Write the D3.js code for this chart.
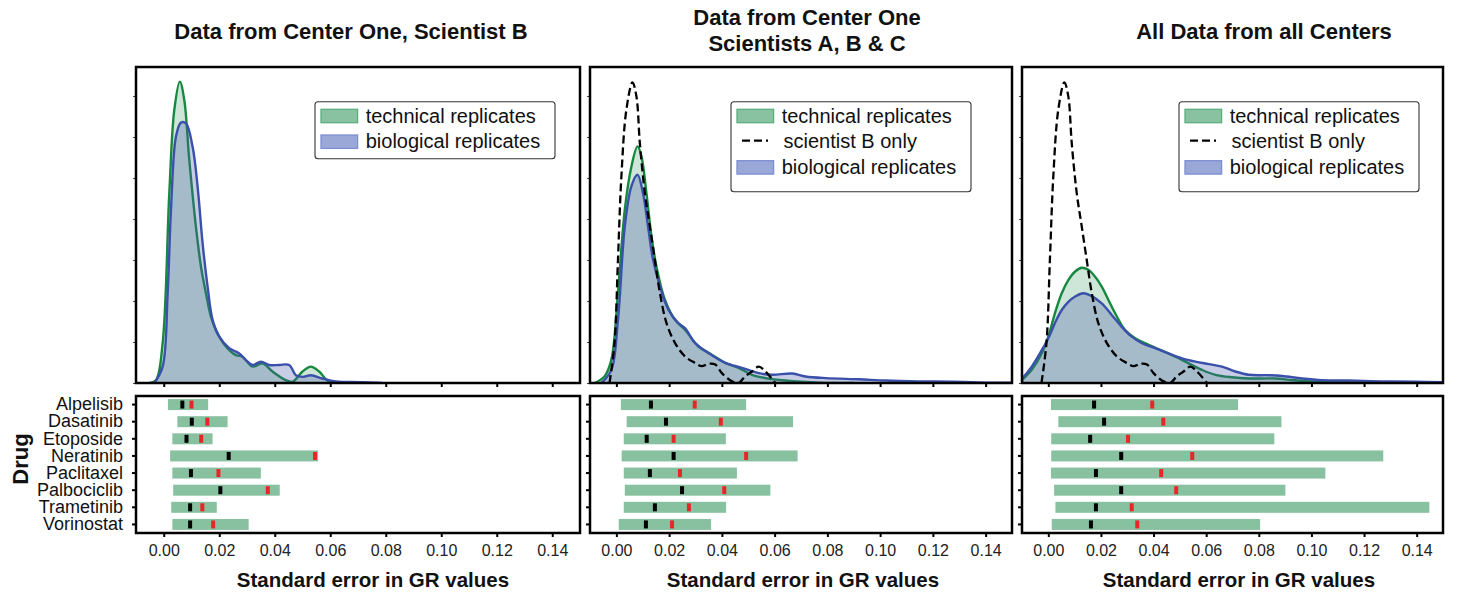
<!DOCTYPE html>
<html><head><meta charset="utf-8">
<script src="https://cdn.jsdelivr.net/npm/d3@7"></script>
<style>body{margin:0;background:#fff} svg{font-family:"Liberation Sans",Arial,Helvetica,sans-serif}</style>
</head><body><svg id="c" width="1457" height="598"></svg>
<script>
// ---------- DATA ----------
const drugs = ["Alpelisib","Dasatinib","Etoposide","Neratinib","Paclitaxel","Palbociclib","Trametinib","Vorinostat"];
const xTicks = [0,0.02,0.04,0.06,0.08,0.10,0.12,0.14];
const densityTicks = [0,10,20,30,40,50,60,70];
const legendLabels = ["technical replicates","scientist B only","biological replicates"];
const titles = [["Data from Center One, Scientist B"],["Data from Center One","Scientists A, B & C"],["All Data from all Centers"]];
const xLabel = "Standard error in GR values";
const yLabel = "Drug";

// density curves [value, density]
const p1Tech = [[-0.0052,0],[-0.0028,0.7],[-0.0004,9.7],[0.0020,46.3],[0.0038,66.6],[0.0058,73.5],[0.0074,69],[0.0092,54.4],[0.0116,38.1],[0.0134,28.4],[0.0152,21.9],[0.0170,16.2],[0.0188,12.9],[0.0224,8.9],[0.0260,6.8],[0.0284,6.4],[0.0320,4.0],[0.0356,4.8],[0.0392,2.8],[0.0440,0.7],[0.0464,0.3],[0.0500,2.8],[0.0530,4.0],[0.0560,2.8],[0.0596,0.3],[0.0656,0]];
const p1Bio = [[-0.0034,0],[-0.0004,4.0],[0.0014,21.9],[0.0026,42.2],[0.0044,60.1],[0.0062,63.5],[0.0080,63.3],[0.0104,57.6],[0.0122,47.9],[0.0140,34.1],[0.0158,23.5],[0.0176,15.4],[0.0200,11.3],[0.0236,8.5],[0.0272,7.2],[0.0296,5.6],[0.0320,4.4],[0.0350,5.2],[0.0380,4.4],[0.0416,4.4],[0.0452,4.4],[0.0476,1.9],[0.0500,1.5],[0.0530,1.9],[0.0572,1.1],[0.0620,0.4],[0.0709,0.2],[0.0788,0]];
const p2Tech = [[-0.0083,0],[-0.0045,1.6],[-0.0019,5.7],[0.0006,22],[0.0032,42.3],[0.0057,52.8],[0.0080,57.7],[0.0095,55.3],[0.0114,46.3],[0.0133,35.8],[0.0152,28.4],[0.0184,20.3],[0.0222,15.4],[0.0260,13],[0.0311,8.9],[0.0362,6.9],[0.0413,4.9],[0.0463,3.7],[0.0514,2.0],[0.0565,1.2],[0.0641,0.6],[0.0768,0.1],[0.0900,0]];
const p2Bio = [[-0.0057,0],[-0.0019,3.2],[0.0006,15.4],[0.0032,38.2],[0.0057,48],[0.0080,50.8],[0.0101,46.3],[0.0120,38.2],[0.0139,30.1],[0.0165,23.6],[0.0197,17.9],[0.0235,14.6],[0.0260,13.4],[0.0298,9.8],[0.0349,7.3],[0.0413,4.9],[0.0476,3.7],[0.0540,2.4],[0.0590,2.0],[0.0667,2.3],[0.0717,1.6],[0.0794,1.2],[0.0920,0.9],[0.1022,0.6],[0.1149,0.4],[0.1276,0.3],[0.1403,0.1],[0.1500,0.05]];
const sciBOnly = [[-0.0026,0],[-0.0007,9.8],[0.0006,30],[0.0019,50.4],[0.0038,66.7],[0.0061,73.3],[0.0076,69.9],[0.0089,58.5],[0.0108,46.3],[0.0127,38.2],[0.0146,30],[0.0165,22],[0.0190,14.6],[0.0222,9.8],[0.0260,6.5],[0.0298,4.9],[0.0324,4.1],[0.0349,4.7],[0.0375,4.5],[0.0400,2.4],[0.0438,0.4],[0.0463,0],[0.0488,1.6],[0.0514,2.8],[0.0540,4.0],[0.0565,2.8],[0.0603,0]];
const p3Tech = [[-0.0102,0.6],[-0.0063,3.2],[-0.0025,7.2],[0,11.3],[0.0025,17.0],[0.0051,21.9],[0.0076,25.1],[0.0102,27.2],[0.0127,28.1],[0.0152,27.6],[0.0178,25.9],[0.0203,23.5],[0.0229,20.2],[0.0254,17.0],[0.0292,12.9],[0.0330,10.9],[0.0381,9.3],[0.0432,7.9],[0.0483,6.4],[0.0533,4.8],[0.0584,3.2],[0.0635,2.0],[0.0698,1.4],[0.0762,1.1],[0.0863,1.1],[0.0927,0.7],[0.1016,0.3],[0.1143,0.2],[0.1502,0.05]];
const p3Bio = [[-0.0102,0.9],[-0.0063,4.0],[-0.0025,8.0],[0,10.9],[0.0025,14.6],[0.0051,17.8],[0.0076,19.8],[0.0102,21.1],[0.0133,21.9],[0.0165,21.2],[0.0203,19.4],[0.0241,16.6],[0.0279,13.7],[0.0317,11.3],[0.0356,9.7],[0.0406,8.5],[0.0457,7.2],[0.0508,6.0],[0.0559,5.2],[0.0610,4.6],[0.0660,4.0],[0.0711,2.8],[0.0762,2.0],[0.0838,1.9],[0.0889,1.7],[0.0965,1.1],[0.1041,0.7],[0.1143,0.6],[0.1270,0.4],[0.1397,0.3],[0.1502,0.2]];

// per-drug ranges (low, high), black marker, red marker
const p1Low  = [0.0015,0.0049,0.0031,0.0023,0.0031,0.0034,0.0027,0.0031];
const p1High = [0.0160,0.0230,0.0176,0.0556,0.0350,0.0418,0.0191,0.0306];
const p1Black= [0.0067,0.0101,0.0082,0.0234,0.0098,0.0204,0.0095,0.0095];
const p1Red  = [0.0100,0.0157,0.0135,0.0545,0.0197,0.0375,0.0139,0.0178];
const p2Low  = [0.0017,0.0039,0.0028,0.0020,0.0028,0.0032,0.0028,0.0009];
const p2High = [0.0492,0.0670,0.0415,0.0687,0.0457,0.0584,0.0416,0.0359];
const p2Black= [0.0131,0.0188,0.0115,0.0217,0.0127,0.0249,0.0146,0.0112];
const p2Red  = [0.0297,0.0396,0.0217,0.0492,0.0241,0.0409,0.0275,0.0211];
const p3Low  = [0.0010,0.0038,0.0011,0.0011,0.0010,0.0022,0.0027,0.0013];
const p3High = [0.0721,0.0886,0.0859,0.1273,0.1053,0.0901,0.1448,0.0805];
const p3Black= [0.0174,0.0212,0.0159,0.0277,0.0181,0.0277,0.0181,0.0162];
const p3Red  = [0.0395,0.0437,0.0303,0.0547,0.0429,0.0486,0.0317,0.0338];

// ---------- LAYOUT ----------
const TOP = {y0:67, y1:383}, BOT = {y0:396, y1:533};
const panels = [
  {x0:136, x1:580, tech:p1Tech, bio:p1Bio, dash:null, title:titles[0], tx:351, ty:[39], lo:p1Low, hi:p1High, blk:p1Black, red:p1Red, xl:373, leg:{x:315, w:240}},
  {x0:590, x1:1012, tech:p2Tech, bio:p2Bio, dash:sciBOnly, title:titles[1], tx:807, ty:[25,51], lo:p2Low, hi:p2High, blk:p2Black, red:p2Red, xl:803, leg:{x:731, w:240}},
  {x0:1022, x1:1443, tech:p3Tech, bio:p3Bio, dash:sciBOnly, title:titles[2], tx:1264, ty:[39], lo:p3Low, hi:p3High, blk:p3Black, red:p3Red, xl:1239, leg:{x:1179, w:240}}
];
const C = {
  gFill:"rgb(55,155,95)", gFillOp:0.25, gLine:"#16883f",
  bFill:"rgb(72,88,172)", bFillOp:0.30, bLine:"#3a50aa",
  bar:"#88c1a0", blk:"#000", red:"#e8262a"
};

const svg = d3.select("#c");
const yD = d3.scaleLinear().domain([0, 77.07]).range([TOP.y1, TOP.y0]);
const yB = d3.scaleBand().domain(drugs).range([BOT.y0, BOT.y1]).paddingInner(0).paddingOuter(0);

panels.forEach((p, i) => {
  const x = d3.scaleLinear().domain([-0.01, 0.15]).range([p.x0, p.x1]);
  const g = svg.append("g");
  const clipId = "clip" + i;
  svg.append("clipPath").attr("id", clipId).append("rect")
    .attr("x", p.x0).attr("y", TOP.y0).attr("width", p.x1 - p.x0).attr("height", TOP.y1 - TOP.y0);

  const curve = d3.curveCatmullRom.alpha(0.5);
  const area = d3.area().x(d => x(d[0])).y0(yD(0)).y1(d => yD(d[1])).curve(curve);
  const line = d3.line().x(d => x(d[0])).y(d => yD(d[1])).curve(curve);
  const cg = g.append("g").attr("clip-path", `url(#${clipId})`);

  cg.append("path").attr("d", area(p.tech)).attr("fill", C.gFill).attr("fill-opacity", C.gFillOp);
  cg.append("path").attr("d", line(p.tech)).attr("fill", "none").attr("stroke", C.gLine).attr("stroke-width", 2.4);
  cg.append("path").attr("d", area(p.bio)).attr("fill", C.bFill).attr("fill-opacity", C.bFillOp);
  cg.append("path").attr("d", line(p.bio)).attr("fill", "none").attr("stroke", C.bLine).attr("stroke-width", 2.4);
  if (p.dash) {
    cg.append("path").attr("d", line(p.dash)).attr("fill", "none").attr("stroke", "#000")
      .attr("stroke-width", 2.3).attr("stroke-dasharray", "8,4");
  }

  // density ticks (left, no labels)
  g.append("g").attr("transform", `translate(${p.x0},0)`)
    .call(d3.axisLeft(yD).tickValues(densityTicks).tickSize(3).tickFormat(""))
    .call(a => { a.select(".domain").remove(); a.selectAll("line").attr("stroke", "#444").attr("stroke-width", 1); });
  // x ticks under top panel
  g.append("g").attr("transform", `translate(0,${TOP.y1})`)
    .call(d3.axisBottom(x).tickValues(xTicks).tickSize(4).tickFormat(""))
    .call(a => { a.select(".domain").remove(); a.selectAll("line").attr("stroke-width", 2); });

  // frame top
  g.append("rect").attr("x", p.x0).attr("y", TOP.y0).attr("width", p.x1 - p.x0).attr("height", TOP.y1 - TOP.y0)
    .attr("fill", "none").attr("stroke", "#000").attr("stroke-width", 2.5);

  // legend
  const L = p.leg, lh = p.dash ? 90 : 57;
  const lg = g.append("g");
  lg.append("rect").attr("x", L.x).attr("y", 101.7).attr("width", L.w).attr("height", lh).attr("rx", 3)
    .attr("fill", "#fff").attr("fill-opacity", 0.85).attr("stroke", "#333").attr("stroke-width", 1.1);
  const items = p.dash ? [0,1,2] : [0,2];
  items.forEach((k, r) => {
    const cy = 116 + r * 25.7;
    if (k === 1) {
      lg.append("line").attr("x1", L.x + 11).attr("x2", L.x + 37).attr("y1", cy - 1).attr("y2", cy - 1)
        .attr("stroke", "#000").attr("stroke-width", 2.3).attr("stroke-dasharray", "8,4");
    } else {
      const green = k === 0;
      lg.append("rect").attr("x", L.x + 6).attr("y", cy - 6.7).attr("width", 36.6).attr("height", 13.4)
        .attr("fill", green ? "#88c2a0" : "#9aa8d8").attr("stroke", green ? "#5fae80" : "#7d8fd2").attr("stroke-width", 1.3);
    }
    lg.append("text").attr("x", L.x + (k === 1 ? 52.5 : 50.7)).attr("y", cy + 6.5)
      .attr("font-size", 20).attr("fill", "#111").text(legendLabels[k]);
  });

  // title
  p.title.forEach((t, j) => {
    svg.append("text").attr("x", p.tx).attr("y", p.ty[j]).attr("text-anchor", "middle")
      .attr("font-size", 22).attr("font-weight", "bold").attr("fill", "#111").text(t);
  });

  // bottom panel
  const bg = svg.append("g");
  const bh = 11, mh = 8, mw = 4;
  drugs.forEach((d, k) => {
    const cy = yB(d) + yB.bandwidth() / 2;
    bg.append("rect").attr("x", x(p.lo[k])).attr("y", cy - bh / 2).attr("width", x(p.hi[k]) - x(p.lo[k])).attr("height", bh)
      .attr("fill", C.bar);
    bg.append("rect").attr("x", x(p.blk[k]) - mw / 2).attr("y", cy - mh / 2).attr("width", mw).attr("height", mh).attr("fill", C.blk);
    bg.append("rect").attr("x", x(p.red[k]) - mw / 2).attr("y", cy - mh / 2).attr("width", mw).attr("height", mh).attr("fill", C.red);
  });
  bg.append("g").attr("transform", `translate(${p.x0},0)`)
    .call(d3.axisLeft(yB).tickSize(4).tickPadding(9).tickFormat(i === 0 ? (d => d) : ""))
    .call(a => { a.select(".domain").remove(); a.selectAll("line").attr("stroke-width", 2);
      a.selectAll("text").attr("font-size", 18).attr("fill", "#111").attr("font-family", null); });
  bg.append("g").attr("transform", `translate(0,${BOT.y1})`)
    .call(d3.axisBottom(x).tickValues(xTicks).tickSize(4).tickPadding(8).tickFormat(d3.format(".2f")))
    .call(a => { a.select(".domain").remove(); a.selectAll("line").attr("stroke-width", 2);
      a.selectAll("text").attr("font-size", 16).attr("fill", "#222").attr("font-family", null); });
  bg.append("rect").attr("x", p.x0).attr("y", BOT.y0).attr("width", p.x1 - p.x0).attr("height", BOT.y1 - BOT.y0)
    .attr("fill", "none").attr("stroke", "#000").attr("stroke-width", 2.5);

  svg.append("text").attr("x", p.xl).attr("y", 587).attr("text-anchor", "middle")
    .attr("font-size", 20.5).attr("font-weight", "bold").attr("fill", "#111").text(xLabel);
});

svg.append("text").attr("transform", "translate(28,459) rotate(-90)").attr("text-anchor", "middle")
  .attr("font-size", 22).attr("font-weight", "bold").attr("fill", "#111").text(yLabel);
</script></body></html>
